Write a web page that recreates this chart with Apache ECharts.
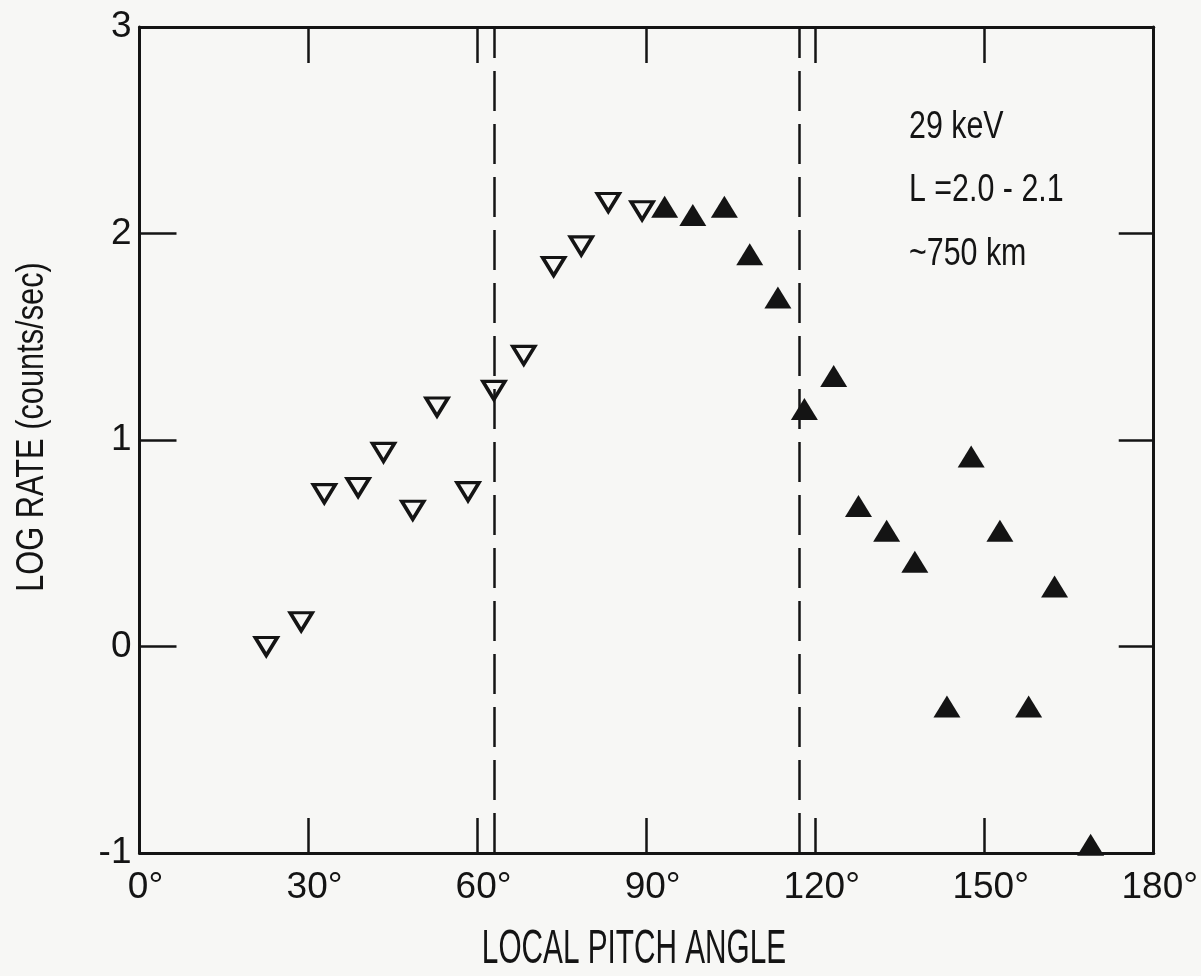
<!DOCTYPE html>
<html>
<head>
<meta charset="utf-8">
<script src="https://cdn.jsdelivr.net/npm/echarts@6/dist/echarts.min.js"></script>
<style>
  html, body { margin: 0; padding: 0; background: #f7f7f5; overflow: hidden; }
  #chart { width: 1201px; height: 976px; }
</style>
</head>
<body>
<div id="chart"></div>
<script>
// ---- data ----
// open (downward) triangles
const angleOpen = [22.5, 28.7, 32.8, 38.8, 43.3, 48.5, 52.8, 58.3, 62.9, 68.2, 73.5, 78.4, 83.2, 89.2];
const rateOpen  = [0.00, 0.12, 0.74, 0.77, 0.94, 0.66, 1.16, 0.75, 1.24, 1.41, 1.84, 1.94, 2.15, 2.11];
// filled (upward) triangles
const angleFilled = [93.2, 98.2, 103.8, 108.3, 113.3, 118.0, 123.2, 127.6, 132.6, 137.6, 143.3, 147.6, 152.7, 157.8, 162.4, 168.8];
const rateFilled  = [2.13, 2.09, 2.13, 1.90, 1.69, 1.15, 1.31, 0.68, 0.56, 0.41, -0.29, 0.92, 0.56, -0.29, 0.29, -0.96];
// loss-cone boundaries (dashed lines)
const lossCone = [63, 117];
// axis ranges / ticks
const xRange = [0, 180], xStep = 30;
const yRange = [-1, 3], yStep = 1;
// texts
const xTitle = 'LOCAL PITCH ANGLE';
const yTitle = 'LOG RATE (counts/sec)';
const notes = ['29 keV', 'L =2.0 - 2.1', '~750 km'];

const INK = '#141414';
const BG = '#f7f7f5';
const FONT = "'Liberation Sans Narrow', 'Liberation Sans', Arial, sans-serif";

const zip = (a, b) => a.map((v, i) => [v, b[i]]);

const frameLine = { show: true, onZero: false, lineStyle: { color: INK, width: 3 } };
const tick = len => ({ show: true, inside: true, length: len, lineStyle: { color: INK, width: 2.5 } });

const chart = echarts.init(document.getElementById('chart'));
chart.setOption({
  backgroundColor: BG,
  animation: false,
  grid: { left: 139.5, top: 27, right: 39, bottom: 123 },
  xAxis: [
    {
      type: 'value', min: xRange[0], max: xRange[1], interval: xStep, position: 'bottom',
      axisLine: frameLine, axisTick: tick(35), splitLine: { show: false },
      axisLabel: {
        formatter: v => v + '\u00b0', fontFamily: FONT, fontSize: 37, color: INK,
        margin: 16, padding: [0, 0, 0, 12]
      }
    },
    {
      type: 'value', min: xRange[0], max: xRange[1], interval: xStep, position: 'top',
      axisLine: frameLine, axisTick: tick(36), splitLine: { show: false },
      axisLabel: { show: false }
    }
  ],
  yAxis: [
    {
      type: 'value', min: yRange[0], max: yRange[1], interval: yStep, position: 'left',
      axisLine: frameLine, axisTick: tick(37), splitLine: { show: false },
      axisLabel: { fontFamily: FONT, fontSize: 37, color: INK, margin: 8 }
    },
    {
      type: 'value', min: yRange[0], max: yRange[1], interval: yStep, position: 'right',
      axisLine: frameLine, axisTick: tick(35), splitLine: { show: false },
      axisLabel: { show: false }
    }
  ],
  series: [
    {
      type: 'scatter',
      data: zip(angleOpen, rateOpen),
      symbol: 'triangle', symbolRotate: 180, symbolSize: [22, 18],
      itemStyle: { color: BG, borderColor: INK, borderWidth: 3.5, opacity: 1 },
      markLine: {
        silent: true, symbol: 'none', animation: false,
        label: { show: false },
        lineStyle: { color: INK, width: 2.5, type: [40, 13] },
        emphasis: { disabled: true },
        data: lossCone.map(v => ({ xAxis: v }))
      }
    },
    {
      type: 'scatter',
      data: zip(angleFilled, rateFilled),
      symbol: 'triangle', symbolSize: [27, 22],
      itemStyle: { color: INK, opacity: 1 }
    }
  ],
  graphic: [
    {
      type: 'text', x: 634, y: 950, scaleX: 0.62,
      style: { text: xTitle, fontFamily: FONT, fontSize: 48, fill: INK, align: 'center', verticalAlign: 'middle' }
    },
    {
      type: 'text', x: 33, y: 427, rotation: Math.PI / 2, scaleX: 0.81,
      style: { text: yTitle, fontFamily: FONT, fontSize: 38, fill: INK, align: 'center', verticalAlign: 'middle' }
    }
  ].concat(notes.map((t, i) => ({
    type: 'text', x: 909, y: [128, 191, 255][i], scaleX: 0.8,
    style: { text: t, fontFamily: FONT, fontSize: 38, fill: INK, align: 'left', verticalAlign: 'middle' }
  })))
});
</script>
</body>
</html>
